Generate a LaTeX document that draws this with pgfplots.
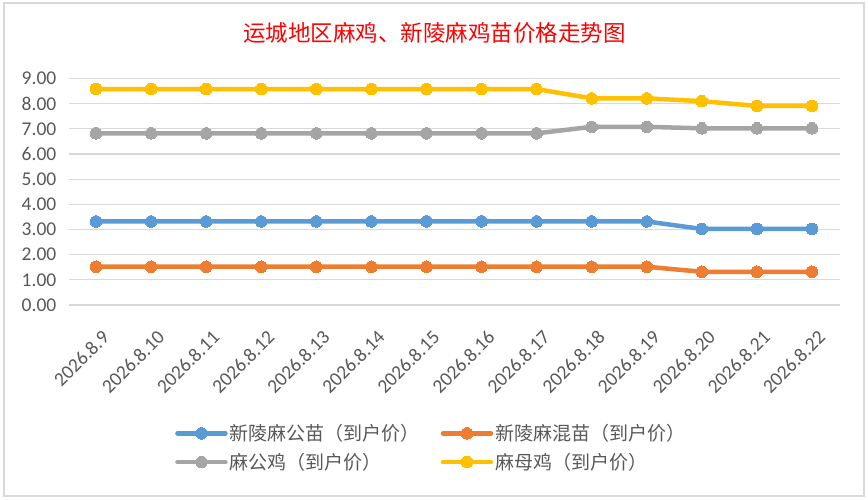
\documentclass[border=0pt]{standalone}
\usepackage{fontspec}
\setmainfont{Carlito}
\newfontfamily\cjk{Noto Sans CJK SC}
\usepackage{pgfplots}
\pgfplotsset{compat=1.18}
\definecolor{cblue}{RGB}{91,155,213}
\definecolor{corange}{RGB}{237,125,49}
\definecolor{cgray}{RGB}{165,165,165}
\definecolor{cyellow}{RGB}{255,192,0}
\definecolor{gridc}{RGB}{217,217,217}
\definecolor{txt}{RGB}{89,89,89}
\pgfplotstableread{
x blue orange gray yellow
0 3.32 1.52 6.82 8.58
1 3.32 1.52 6.82 8.58
2 3.32 1.52 6.82 8.58
3 3.32 1.52 6.82 8.58
4 3.32 1.52 6.82 8.58
5 3.32 1.52 6.82 8.58
6 3.32 1.52 6.82 8.58
7 3.32 1.52 6.82 8.58
8 3.32 1.52 6.82 8.58
9 3.32 1.52 7.08 8.21
10 3.32 1.52 7.08 8.21
11 3.02 1.32 7.02 8.10
12 3.02 1.32 7.02 7.91
13 3.02 1.32 7.02 7.91
}\datatable
\begin{document}
\begin{tikzpicture}[x=1pt,y=1pt]
\path[fill=white] (0,0) rectangle (868,-500);
\draw[gridc, line width=2pt] (4,-3.5) rectangle (863.5,-496);
\node[text=red, font=\cjk\fontsize{22.5}{24}\selectfont] at (434.5,-33) {运城地区麻鸡、新陵麻鸡苗价格走势图};
\begin{axis}[
  at={(68.5pt,-305pt)}, anchor=south west,
  scale only axis, width=771pt, height=226.5pt,
  xmin=-0.5, xmax=13.5, ymin=0, ymax=9,
  ytick={0,1,...,9},
  /pgf/number format/fixed, /pgf/number format/fixed zerofill, /pgf/number format/precision=2,
  /pgf/number format/assume math mode=true,
  xtick=data,
  xticklabels={2026.8.9,2026.8.10,2026.8.11,2026.8.12,2026.8.13,2026.8.14,2026.8.15,2026.8.16,2026.8.17,2026.8.18,2026.8.19,2026.8.20,2026.8.21,2026.8.22},
  x tick label style={xshift=5pt, yshift=-24pt, rotate=45, anchor=north east, font=\fontsize{19.5}{19.5}\selectfont, text=txt, inner sep=0pt},
  y tick label style={anchor=east, font=\fontsize{19.5}{19.5}\selectfont, text=txt, inner sep=0pt, xshift=-12pt},
  major tick length=0pt,
  axis line style={draw=none},
  ymajorgrids, major grid style={gridc, line width=1.2pt},
  clip=false,
  legend columns=2,
  legend cell align=left,
  legend style={at={(axis cs:1.38,-4.58)}, anchor=north west, draw=none, fill=none,
    font=\cjk\fontsize{19}{19}\selectfont, text=txt, row sep=7pt,
    /tikz/every even column/.append style={column sep=19pt}},
  legend image code/.code={\draw[#1, mark repeat=2, mark phase=2] plot coordinates {(0pt,0pt) (24pt,0pt) (48pt,0pt)};},
  every axis plot/.append style={line width=4.5pt, line join=round, line cap=round, mark=*, mark size=5.8pt, mark options={solid}},
]
\addplot[cblue, mark options={fill=cblue, draw=cblue, line width=0pt}] table[x=x, y=blue] {\datatable};
\addlegendentry{新陵麻公苗（到户价）}
\addplot[corange, mark options={fill=corange, draw=corange, line width=0pt}] table[x=x, y=orange] {\datatable};
\addlegendentry{新陵麻混苗（到户价）}
\addplot[cgray, mark options={fill=cgray, draw=cgray, line width=0pt}] table[x=x, y=gray] {\datatable};
\addlegendentry{麻公鸡（到户价）}
\addplot[cyellow, mark options={fill=cyellow, draw=cyellow, line width=0pt}] table[x=x, y=yellow] {\datatable};
\addlegendentry{麻母鸡（到户价）}
\end{axis}
\end{tikzpicture}
\end{document}
